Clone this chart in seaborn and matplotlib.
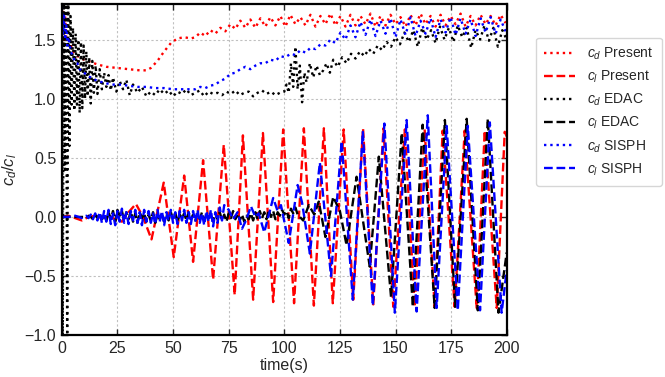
import numpy as np
import pandas as pd
import matplotlib
matplotlib.use("Agg")
import matplotlib.pyplot as plt
import seaborn as sns

# ---- data ----
# c_l Present (red dashed): extrema of the oscillation
cl_present_t = [0, 3, 6, 9, 12, 15, 18, 21, 24, 27, 30, 33.3, 36.5, 40.3, 45.8, 50.3, 55, 59,
                63.5, 68, 72.8, 77.7, 81.4, 86, 90.4, 95, 99.5, 104.4, 108.8, 113.3, 117.8,
                121.8, 126.7, 131, 135.4, 140, 144.6, 149, 154.2, 158.6, 163.1, 167.6, 171.2,
                176.6, 181.1, 186.5, 190.1, 195.5, 199.1, 200]
cl_present_v = [0.0, 0.01, -0.01, -0.03, 0.0, 0.01, -0.01, 0.01, -0.02, -0.04, 0.04, 0.11, 0.0,
                -0.19, 0.29, -0.34, 0.35, -0.38, 0.48, -0.53, 0.61, -0.66, 0.69, -0.70, 0.71,
                -0.72, 0.74, -0.73, 0.75, -0.75, 0.75, -0.73, 0.74, -0.70, 0.75, -0.74, 0.75,
                -0.76, 0.74, -0.76, 0.74, -0.76, 0.73, -0.76, 0.73, -0.77, 0.73, -0.77, 0.72, 0.68]

# c_d Present (red dotted)
cd_present_t0 = [0, 0.5, 1, 1.5, 2, 3, 5, 7, 10, 13, 16, 20, 25, 30, 35, 38, 40, 43, 46, 49,
                 52, 55, 58]
cd_present_v0 = [1.30, 1.75, 1.45, 1.70, 1.50, 1.50, 1.40, 1.36, 1.33, 1.31, 1.29, 1.27, 1.26,
                 1.25, 1.24, 1.24, 1.26, 1.32, 1.40, 1.47, 1.51, 1.52, 1.51]
cd_present_v1 = [1.52, 1.56, 1.53, 1.58, 1.55, 1.60, 1.57, 1.63, 1.59, 1.66, 1.60, 1.67, 1.60,
                 1.68, 1.61, 1.69, 1.62, 1.70, 1.61, 1.71, 1.63, 1.69, 1.62, 1.71, 1.61, 1.70,
                 1.63, 1.72, 1.62, 1.70, 1.61, 1.71, 1.62, 1.70, 1.63, 1.72, 1.61, 1.70, 1.62,
                 1.71, 1.63, 1.69, 1.61, 1.71, 1.62, 1.72, 1.63, 1.70, 1.61, 1.71, 1.62, 1.70,
                 1.63, 1.72, 1.61, 1.70, 1.62, 1.71, 1.63, 1.70, 1.62, 1.71, 1.64]

# c_l EDAC (black dashed)
cl_edac_noise = [0.00, -0.01, 0.01, 0.00, -0.02, 0.02, -0.01, 0.03, -0.02, 0.02,
                 -0.03, 0.04, -0.02, 0.05, -0.04, 0.06, 0.01, 0.05, -0.03, 0.04,
                 -0.02, 0.05, -0.04, 0.03, -0.05, 0.04, -0.01, 0.03, -0.04, 0.02,
                 -0.03, 0.04, -0.05, 0.02, -0.02, 0.03, -0.04, 0.01, -0.03, 0.04,
                 -0.02, 0.03, -0.04, 0.02, -0.01, 0.03, -0.03, 0.04, -0.02, 0.02,
                 -0.03, 0.03, -0.02, 0.04, -0.03, 0.02, -0.01, 0.03, -0.04, 0.03,
                 -0.02, 0.04, -0.03, 0.02, -0.04, 0.03, -0.01, 0.05, -0.02, 0.03,
                 -0.03, 0.02, -0.04, 0.01, -0.02, 0.03, -0.03, 0.04, -0.02, 0.05,
                 -0.01, 0.04, -0.02, 0.06, 0.00, 0.05, -0.02, 0.04, 0.01, 0.06,
                 0.02, 0.05, -0.01, 0.07, 0.03, 0.08, 0.02]
cl_edac_t1 = [108.5, 111, 113.5, 115.5, 118.5, 122, 125, 128, 132.5, 138.4, 142.5, 148, 152.8,
              157.8, 162.2, 167.6, 172.2, 176.8, 182, 187, 191.5, 196.3, 200]
cl_edac_v1 = [-0.03, 0.10, 0.02, 0.13, -0.17, 0.17, 0.05, -0.24, 0.34, -0.42, 0.51, -0.68, 0.71,
              -0.76, 0.78, -0.77, 0.82, -0.76, 0.83, -0.79, 0.83, -0.81, -0.30]

# c_d EDAC (black dotted)
cd_edac_t0 = [0, 0.4, 0.9, 1.4, 1.9, 2.4, 2.9, 3.4, 3.9, 4.4, 5.0, 5.6, 6.2, 6.8, 7.4, 8.0, 8.6,
              9.2, 9.8, 10.4, 11.0, 11.6, 12.3, 13.0, 13.7, 14.4, 15.2, 16.0, 17, 18, 19, 20,
              21, 22, 23, 24.5, 26, 27.5, 29, 30.5, 32, 34, 36, 38]
cd_edac_v0 = [1.75, -1.0, 1.8, 0.4, 1.8, -1.0, 1.8, 0.6, 1.7, 0.95, 1.6, 0.90, 1.55, 0.95, 1.5,
              0.88, 1.48, 0.92, 1.45, 1.0, 1.4, 1.02, 1.35, 0.96, 1.32, 1.05, 1.28, 1.04, 1.25,
              1.08, 1.22, 1.10, 1.20, 1.07, 1.18, 1.06, 1.15, 1.08, 1.16, 1.03, 1.12, 1.05,
              1.10, 1.02]
cd_edac_v1 = [1.06, 1.03, 1.08, 1.04, 1.07, 1.02, 1.06, 1.04, 1.08, 1.03, 1.05, 1.07, 1.02,
              1.06, 1.04, 1.05, 1.03, 1.06, 1.04, 1.07, 1.03, 1.05, 1.06, 1.02, 1.05, 1.07,
              1.04, 1.06, 1.03, 1.05]
cd_edac_t2 = [100, 101, 102, 103, 104, 105, 106, 107, 108, 109, 110, 111.5, 113, 114.5, 116,
              117.5, 119, 120.5, 122, 124, 126, 128, 130, 132, 134, 136, 138, 140, 142, 144,
              146, 148, 150, 152, 154, 156, 158, 160, 162, 164, 166, 168, 170, 172, 174, 176,
              178, 180, 182, 184, 186, 188, 190, 192, 194, 196, 198, 200]
cd_edac_v2 = [1.06, 1.12, 1.05, 1.30, 1.10, 1.44, 1.08, 1.28, 0.97, 1.22, 1.14, 1.30, 1.18,
              1.28, 1.20, 1.24, 1.30, 1.22, 1.33, 1.27, 1.35, 1.30, 1.38, 1.34, 1.40, 1.36,
              1.42, 1.38, 1.45, 1.41, 1.48, 1.44, 1.52, 1.46, 1.56, 1.48, 1.58, 1.44, 1.60,
              1.50, 1.58, 1.47, 1.61, 1.50, 1.60, 1.48, 1.62, 1.52, 1.60, 1.43, 1.58, 1.50,
              1.62, 1.49, 1.60, 1.44, 1.58, 1.50]

# c_l SISPH (blue dashed)
cl_sisph_t0 = [0, 3, 6, 9]
cl_sisph_v0 = [0.0, 0.0, 0.01, -0.01]
cl_sisph_noise = [0.00, 0.01, -0.01, 0.02, -0.02, 0.03, -0.03, 0.04, -0.05, 0.05,
                  -0.04, 0.06, -0.06, 0.03, -0.07, 0.05, -0.04, 0.07, -0.05, 0.04,
                  -0.06, 0.05, -0.03, 0.06, -0.05, 0.04, -0.07, 0.06, -0.04, 0.05,
                  -0.05, 0.03, -0.06, 0.06, -0.04, 0.05, -0.07, 0.04, -0.03, 0.06,
                  -0.05, 0.04, -0.06, 0.05, -0.03, 0.06, -0.05, 0.04, -0.06, 0.05,
                  -0.04, 0.06, -0.05, 0.03, -0.07, 0.05, -0.04, 0.06, -0.08, 0.04,
                  -0.05, 0.08, -0.03, 0.10]
cl_sisph_t1 = [75, 77, 79, 81, 83, 85, 87, 88.5, 91, 95, 97, 98.5, 102, 106, 108, 111.5, 116,
               121, 125.8, 130.8, 135.3, 139.8, 145, 149.7, 155, 159.5, 164.5, 168.5, 173,
               178, 182.5, 188, 192.4, 197.7, 200]
cl_sisph_v1 = [0.06, -0.02, 0.04, -0.10, -0.02, 0.09, 0.0, 0.03, -0.13, 0.16, 0.05, 0.10, -0.22,
               0.27, 0.12, -0.31, 0.46, -0.50, 0.64, -0.70, 0.72, -0.75, 0.79, -0.81, 0.82,
               -0.80, 0.86, -0.77, 0.77, -0.79, 0.77, -0.79, 0.80, -0.81, -0.45]

# c_d SISPH (blue dotted)
cd_sisph_t0 = [0, 0.5, 1, 1.5, 2, 2.5, 3, 4, 5, 6, 7, 8, 10, 12, 14, 16, 18, 20, 23, 26, 30,
               34, 38, 42, 46, 50, 54, 58]
cd_sisph_v0 = [1.78, 1.55, 1.72, 1.50, 1.62, 1.45, 1.52, 1.40, 1.36, 1.31, 1.30, 1.25, 1.22,
               1.19, 1.17, 1.15, 1.14, 1.13, 1.12, 1.12, 1.11, 1.10, 1.10, 1.09, 1.09, 1.08,
               1.08, 1.08]
cd_sisph_v1 = [1.08, 1.10, 1.09, 1.11, 1.12, 1.15, 1.17, 1.21, 1.22, 1.25, 1.27, 1.25, 1.28,
               1.30, 1.30, 1.33, 1.32, 1.36, 1.35, 1.38, 1.37, 1.41, 1.39, 1.43, 1.42, 1.46,
               1.45, 1.50, 1.47, 1.56, 1.50, 1.62, 1.52, 1.65, 1.54, 1.67, 1.53, 1.66, 1.55,
               1.68, 1.52, 1.67, 1.54, 1.69, 1.53, 1.66, 1.55, 1.68, 1.52, 1.67, 1.56, 1.69,
               1.54, 1.68, 1.55, 1.67, 1.53, 1.68, 1.56, 1.69, 1.55, 1.67, 1.57]

# ---- assemble series ----
def series(t, v, name):
    return pd.DataFrame({"t": np.asarray(t, float), "v": np.asarray(v, float), "name": name})

osc_step = 2.25  # drag samples every half lift period
cd_present = series(cd_present_t0 + list(60 + osc_step * np.arange(len(cd_present_v1))),
                    cd_present_v0 + cd_present_v1, "cd Present")
cl_present = series(cl_present_t, cl_present_v, "cl Present")
cd_edac = series(cd_edac_t0 + list(40 + 2 * np.arange(len(cd_edac_v1))) + cd_edac_t2,
                 cd_edac_v0 + cd_edac_v1 + cd_edac_v2, "cd EDAC")
cl_edac = series([0, 5] + list(10 + np.arange(len(cl_edac_noise))) + cl_edac_t1,
                 [0.0, 0.0] + cl_edac_noise + cl_edac_v1, "cl EDAC")
cd_sisph = series(cd_sisph_t0 + list(60 + osc_step * np.arange(len(cd_sisph_v1))),
                  cd_sisph_v0 + cd_sisph_v1, "cd SISPH")
cl_sisph = series(cl_sisph_t0 + list(10 + np.arange(len(cl_sisph_noise))) + cl_sisph_t1,
                  cl_sisph_v0 + cl_sisph_noise + cl_sisph_v1, "cl SISPH")

sns.set_style("ticks")
plt.rcParams["font.family"] = ["Liberation Sans", "DejaVu Sans"]
plt.rcParams["mathtext.fontset"] = "custom"
plt.rcParams["mathtext.rm"] = "Liberation Sans"
plt.rcParams["mathtext.it"] = "Liberation Sans:italic"

fig = plt.figure(figsize=(6.65, 3.77), dpi=100)
ax = fig.add_axes([0.093, 0.111, 0.669, 0.878])

styles = [
    (cd_present, "red", ":", r"$c_d$ Present"),
    (cl_present, "red", "--", r"$c_l$ Present"),
    (cd_edac, "black", ":", r"$c_d$ EDAC"),
    (cl_edac, "black", "--", r"$c_l$ EDAC"),
    (cd_sisph, "blue", ":", r"$c_d$ SISPH"),
    (cl_sisph, "blue", "--", r"$c_l$ SISPH"),
]
for df, col, ls, lab in styles:
    sns.lineplot(data=df, x="t", y="v", ax=ax, color=col, linestyle=ls, lw=1.7,
                 sort=False, estimator=None, label=lab)

ax.set_xlim(0, 200)
ax.set_ylim(-1.0, 1.8)
ax.set_xticks([0, 25, 50, 75, 100, 125, 150, 175, 200])
ax.set_yticks([-1.0, -0.5, 0.0, 0.5, 1.0, 1.5])
ax.grid(True, color="#c0c0c0", linestyle=(0, (2, 2)), lw=0.8)
ax.tick_params(direction="in", top=True, right=True, length=4, width=1, labelsize=11.5,
               pad=4)
for s in ax.spines.values():
    s.set_linewidth(1.6)
    s.set_color("black")
ax.set_xlabel("time(s)", fontsize=11.5, labelpad=2)
ax.set_ylabel(r"$c_d/c_l$", fontsize=12, labelpad=4)

ax.legend(loc="center left", bbox_to_anchor=(1.05, 0.675), fontsize=10, frameon=True,
          edgecolor="#cccccc", fancybox=True, handlelength=2.2, handletextpad=0.9,
          labelspacing=0.48, borderpad=0.6)

fig.savefig("out.png", dpi=100)
